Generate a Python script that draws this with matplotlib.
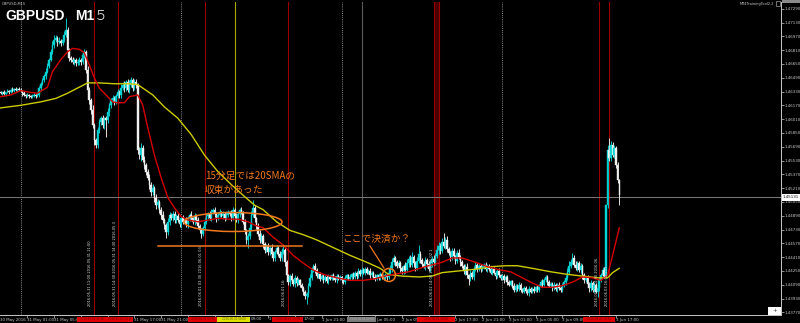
import numpy as np
import matplotlib
matplotlib.use("Agg")
import matplotlib.pyplot as plt
from matplotlib.patches import Ellipse, Rectangle
from matplotlib.transforms import blended_transform_factory

# ------------------------------------------------------------------ data
# GBPUSD M15, bar 0 = 2016.05.30 21:00 (prices in 1e-4 units)
first_open = 14632
close_pips = [
    14631, 14632, 14630, 14632, 14634, 14632, 14635, 14634, 14636, 14635, 14636, 14635,
    14634, 14631, 14629, 14628, 14629, 14628, 14627, 14628, 14629, 14628, 14629,
    14637, 14642, 14646, 14651, 14656, 14663, 14670, 14679, 14687, 14693, 14695,
    14690, 14692, 14689, 14693, 14698, 14704,
    14681, 14672, 14670, 14667, 14670, 14666, 14667, 14670, 14667, 14675, 14679,
    14658, 14635, 14623, 14612, 14594, 14577, 14571,
    14588, 14598, 14602, 14594, 14602, 14600, 14609, 14617, 14623, 14625, 14621, 14628,
    14632, 14629, 14637, 14641, 14637, 14644, 14635, 14641, 14646, 14637, 14644, 14641,
    14565, 14559, 14568, 14554, 14548, 14540, 14533, 14525, 14516, 14521, 14510, 14501,
    14505, 14496, 14490, 14484, 14478, 14470,
    14482, 14490, 14486, 14491, 14484, 14489, 14484, 14479, 14486, 14482, 14484, 14479,
    14486, 14490, 14486, 14482, 14489, 14484, 14477, 14472, 14468, 14475, 14482,
    14489, 14491, 14486, 14493, 14496, 14491, 14486, 14490, 14493, 14489, 14491, 14486,
    14490, 14493, 14491, 14486, 14496, 14489, 14484, 14491, 14496, 14493,
    14482, 14472, 14461, 14466, 14475, 14490, 14498, 14486, 14477, 14468, 14461, 14466,
    14456, 14449, 14454, 14447, 14452, 14445, 14440, 14447, 14452, 14445, 14440, 14447, 14449,
    14435, 14420, 14412, 14419, 14414, 14410, 14417, 14411, 14414, 14409, 14405, 14401,
    14396, 14398, 14408, 14417, 14426, 14431, 14426, 14419, 14421, 14416,
    14419, 14414, 14418, 14413, 14418, 14416, 14420, 14417, 14414, 14419, 14416, 14418,
    14414, 14412, 14417, 14420, 14416, 14418, 14421, 14418, 14423, 14419, 14425, 14421,
    14426, 14423, 14427, 14423, 14425, 14420, 14423, 14418, 14416, 14420, 14417, 14421,
    14418, 14416, 14420, 14418, 14423,
    14428, 14435, 14440, 14435, 14431, 14434, 14428, 14425, 14431, 14426,
    14434, 14439, 14432, 14441, 14434, 14428, 14437, 14445, 14438, 14433,
    14430, 14438, 14433, 14427, 14434, 14439, 14435, 14442, 14449, 14454,
    14448, 14459, 14454, 14461, 14450, 14446, 14441, 14448, 14442, 14437,
    14446, 14441, 14435, 14431, 14425, 14430, 14420, 14416, 14423, 14418,
    14427, 14432, 14427, 14431, 14427, 14430, 14432, 14427, 14431, 14427,
    14423, 14427, 14423, 14419, 14425, 14420, 14417, 14419, 14414,
    14418, 14412, 14409, 14413, 14408, 14403, 14408, 14404, 14409, 14403,
    14401, 14405, 14402, 14399, 14404, 14401, 14404, 14402, 14406, 14403,
    14408, 14412, 14409, 14414, 14418, 14412, 14408, 14410, 14405, 14409,
    14404, 14409, 14405, 14403, 14408, 14412, 14417, 14424, 14431, 14435,
    14440, 14432, 14428, 14434, 14426, 14431, 14420, 14414, 14417, 14410,
    14405, 14411, 14403, 14409, 14401, 14405, 14414, 14420, 14426, 14419,
    14501, 14565, 14556, 14571, 14559, 14568, 14548, 14530, 14513,
]
upper_wick = [
    2, 1, 3, 1, 2, 1, 2, 3, 1, 2,   1, 2, 2, 1, 3, 1, 2, 1, 1, 2,
    2, 1, 3, 2, 2, 3, 2, 4, 3, 2,   3, 4, 5, 3, 2, 4, 2, 3, 5, 14,
    4, 3, 2, 3, 2, 2, 4, 3, 2, 5,   3, 2, 4, 3, 2, 5, 3, 2, 4, 3,
    3, 4, 2, 3, 5, 3, 2, 4, 3, 2,   4, 3, 5, 3, 4, 2, 3, 5, 4, 3,
    3, 4, 2, 4, 5, 3, 4, 2, 3, 4,   3, 5, 2, 4, 3, 2, 3, 4, 2, 3,
    4, 3, 2, 3, 4, 2, 3, 2, 3, 4,   2, 3, 3, 2, 4, 2, 3, 2, 3, 2,
    3, 2, 4, 3, 2, 3, 4, 2, 3, 2,   3, 4, 2, 3, 2, 4, 3, 2, 5, 3,
    2, 3, 4, 2, 3, 2, 3, 2, 3, 4,   5, 9, 3, 2, 3, 4, 3, 2, 3, 2,
    3, 2, 4, 3, 2, 3, 2, 3, 4, 5,   2, 3, 2, 3, 4, 2, 3, 2, 3, 2,
    2, 3, 2, 2, 3, 4, 3, 2, 3, 2,   2, 3, 2, 3, 2, 2, 3, 2, 2, 3,
    2, 2, 3, 2, 1, 2, 3, 2, 2, 3,   2, 3, 2, 2, 3, 2, 3, 2, 2, 3,
    2, 3, 2, 2, 3, 2, 2, 3, 2, 2,   3, 2, 3, 4, 5, 3, 2, 3, 4, 2,
    3, 2, 4, 5, 3, 4, 6, 3, 2, 4,   10, 3, 2, 4, 3, 2, 3, 4, 3, 5,
    4, 6, 5, 3, 4, 10, 3, 4, 3, 2,  4, 3, 2, 3, 4, 2, 3, 2, 3, 4,
    2, 3, 2, 4, 3, 2, 3, 2, 3, 2,   3, 2, 2, 3, 2, 3, 2, 2, 3, 2,
    2, 3, 2, 2, 3, 2, 2, 3, 2, 2,   3, 2, 2, 3, 2, 2, 3, 2, 2, 3,
    2, 3, 2, 3, 4, 3, 2, 2, 3, 2,   2, 3, 2, 2, 3, 2, 3, 2, 3, 4,
    5, 4, 6, 3, 4, 3, 2, 3, 2, 3,   2, 3, 2, 3, 2, 3, 2, 3, 4, 3,
    4, 3, 0, 6, 14, 5, 4, 3, 2, 3,  2,
]
lower_wick = [
    1, 2, 1, 2, 1, 2, 1, 1, 2, 1,   2, 1, 2, 3, 1, 2, 1, 2, 2, 1,
    1, 2, 1, 2, 3, 2, 2, 3, 2, 3,   2, 3, 4, 3, 4, 2, 3, 2, 3, 2,
    3, 4, 3, 2, 3, 4, 2, 3, 3, 2,   3, 4, 5, 4, 5, 3, 6, 3, 4, 3,
    4, 3, 5, 20, 3, 4, 3, 2, 4, 3,  3, 4, 3, 2, 4, 3, 2, 4, 3, 3,
    2, 4, 5, 4, 6, 3, 5, 4, 3, 5,   4, 3, 5, 4, 3, 4, 5, 3, 4, 7,
    3, 4, 2, 3, 4, 3, 2, 3, 4, 3,   2, 3, 4, 3, 2, 3, 4, 3, 2, 3,
    5, 3, 2, 3, 4, 2, 3, 2, 3, 4,   2, 3, 2, 4, 3, 2, 3, 2, 3, 2,
    3, 2, 4, 3, 2, 3, 4, 5, 10, 4,  3, 2, 4, 3, 2, 4, 3, 4, 3, 2,
    3, 4, 2, 3, 4, 2, 3, 4, 3, 2,   4, 5, 3, 4, 2, 3, 4, 3, 2, 3,
    3, 4, 3, 9, 3, 2, 3, 2, 3, 2,   2, 3, 2, 3, 2, 2, 3, 2, 2, 3,
    2, 3, 2, 2, 3, 2, 2, 3, 2, 2,   3, 2, 2, 3, 2, 2, 3, 2, 3, 2,
    2, 3, 2, 2, 3, 2, 2, 3, 2, 2,   2, 3, 2, 3, 4, 3, 4, 3, 2, 4,
    3, 4, 3, 2, 4, 3, 2, 4, 3, 2,   3, 4, 3, 2, 4, 3, 2, 3, 4, 3,
    3, 2, 4, 3, 2, 3, 4, 3, 2, 4,   3, 2, 4, 3, 2, 4, 3, 4, 5, 3,
    7, 3, 2, 3, 2, 3, 2, 3, 2, 3,   2, 3, 2, 2, 3, 2, 3, 2, 2, 3,
    2, 3, 2, 3, 2, 2, 3, 2, 3, 2,   2, 3, 2, 2, 3, 2, 3, 2, 2, 3,
    2, 2, 3, 2, 3, 2, 2, 3, 2, 2,   3, 2, 2, 3, 2, 3, 2, 2, 3, 2,
    2, 3, 2, 3, 2, 3, 2, 3, 4, 3,   2, 3, 4, 3, 2, 3, 2, 6, 3, 2,
    3, 2, 2, 3, 4, 3, 2, 3, 4, 3,   12,
]

# 20 SMA (red) and 20 SMA of H1 (yellow)
red_ma_bar = [0, 6, 12, 18, 22, 28, 31, 36, 40, 43, 47, 50, 53, 56, 59, 64, 67, 70, 74, 77,
              82, 85, 88, 92, 96, 100, 104, 108, 112, 118, 124, 130, 136, 142, 148, 152, 157,
              163, 169, 175, 181, 187, 193, 201, 209, 217, 224, 232, 244, 254, 264, 270, 276,
              284, 291, 299, 305, 312, 318, 324, 330, 336, 342, 348, 354, 359, 363, 366, 370]
red_ma_pips = [14627, 14629, 14634, 14632, 14631, 14638, 14656, 14670, 14679, 14683, 14682,
               14678, 14664, 14649, 14637, 14627, 14621, 14620, 14620, 14627, 14629, 14617,
               14591, 14559, 14533, 14510, 14498, 14488, 14484, 14482, 14484, 14486, 14485,
               14485, 14482, 14478, 14475, 14464, 14455, 14443, 14434, 14426, 14421, 14417,
               14414, 14414, 14416, 14420, 14424, 14430, 14435, 14440, 14440, 14435, 14430,
               14426, 14424, 14417, 14411, 14406, 14406, 14408, 14412, 14418, 14417, 14414,
               14420, 14443, 14475]
yellow_ma_bar = [0, 12, 24, 33, 40, 46, 52, 59, 68, 77, 82, 91, 98, 106, 114, 122, 130, 138,
                 146, 152, 157, 165, 173, 181, 189, 199, 209, 219, 227, 232, 240, 250, 258,
                 264, 274, 284, 294, 302, 309, 318, 329, 339, 348, 357, 363, 366, 370]
yellow_ma_pips = [14614, 14617, 14621, 14625, 14631, 14637, 14643, 14643, 14642, 14642, 14641,
                  14629, 14615, 14602, 14583, 14559, 14540, 14525, 14511, 14501, 14496, 14482,
                  14472, 14467, 14461, 14452, 14443, 14435, 14428, 14421, 14419, 14418, 14419,
                  14423, 14425, 14427, 14430, 14431, 14431, 14428, 14424, 14421, 14419, 14417,
                  14417, 14423, 14428]

bid_price = 1.4511
bid_label = "1.45131"

price_ticks = [1.47290, 1.47130, 1.46970, 1.46810, 1.46650, 1.46490, 1.46330, 1.46170,
               1.46010, 1.45850, 1.45690, 1.45530, 1.45370, 1.45210, 1.45050, 1.44890,
               1.44730, 1.44570, 1.44410, 1.44250, 1.44090, 1.43930, 1.43770]
price_tick_labels = ["%.5f" % p for p in price_ticks]

time_tick_bars = [16, 32, 48, 64, 80, 96, 112, 128, 144, 160, 176, 192, 208, 224, 240, 256,
                  272, 288, 304, 320, 336, 352, 368]
time_tick_labels = ["31 May 01:00", "31 May 05:00", "31 May 09:00", "31 May 13:00",
                    "31 May 17:00", "31 May 21:00", "1 Jun 01:00", "1 Jun 05:00",
                    "1 Jun 09:00", "1 Jun 13:00", "1 Jun 17:00", "1 Jun 21:00",
                    "2 Jun 01:00", "2 Jun 05:00", "2 Jun 09:00", "2 Jun 13:00",
                    "2 Jun 17:00", "2 Jun 21:00", "3 Jun 01:00", "3 Jun 05:00",
                    "3 Jun 09:00", "3 Jun 13:00", "3 Jun 17:00"]
first_label = "30 May 2016"

day_sep_bars = [12, 108, 204, 300]
red_event_bars = [56, 70, 122, 172, 259, 262, 358, 364]
yellow_event_bars = [140]
grey_event_bars = [216]
event_box_kind = ["red", "red", "red", "yellow", "red", "grey", "red", "red"]
event_box_text = ["2016.05.31 11:00", "2016.05.31 14:30", "2016.06.01 03:30",
                  "2016.06.01 08:00", "2016.06.01 16:00", "2016.06.02 03:00",
                  "2016.06.02 14:00", "2016.06.03 14:30"]
event_texts = ["2016.05.31 11:00", "2016.05.31 14:30", "2016.06.01 03:30",
               "2016.06.01 16:00", "2016.06.02 14:00", "2016.06.03 14:30",
               "2016.06.03 16:00"]

# ------------------------------------------------------------------ geometry helpers
W, H = 800, 323
X0, DX = 0.64, 1.672          # pixel x of bar 0, pixels per bar
P0, DP = 1.47391, 0.00011594  # price at pixel y=0, price per pixel


def bx(px):
    return (px - X0) / DX


def py(y):
    return P0 - DP * y


def fx(px):
    return px / W


def fy(y):
    return 1 - y / H


closes = np.array(close_pips) / 1e4
opens = np.concatenate([[first_open], close_pips[:-1]]) / 1e4
highs = np.maximum(opens, closes) + np.array(upper_wick) / 1e4
lows = np.minimum(opens, closes) - np.array(lower_wick) / 1e4
idx = np.arange(len(closes))

BULL, BEAR = "#00D2D2", "#F0F0F0"
ORANGE = "#F07820"
AXC = "#C8C8C8"

fig = plt.figure(figsize=(W / 100, H / 100), dpi=100, facecolor="black")
ax = fig.add_axes([0, 8 / H, 781 / W, 313 / H], facecolor="black")
ax.set_xlim(bx(0), bx(781))
ax.set_ylim(py(315), py(2))

# separators and event lines
for b in day_sep_bars:
    ax.axvline(b, color="#8A8A8A", lw=0.7, ls=(0, (1, 1.2)), zorder=1)
ax.axvspan(red_event_bars[4], red_event_bars[5], color="#4A0000", lw=0, zorder=1)
for b in red_event_bars:
    ax.axvline(b, color="#9A0000", lw=0.8, zorder=1)
for b in yellow_event_bars:
    ax.axvline(b, color="#A8A800", lw=0.8, zorder=1)
for b in grey_event_bars:
    ax.axvline(b, color="#5A5A5A", lw=0.8, zorder=1)

# bid line
ax.axhline(bid_price, color="#7A7A7A", lw=0.7, zorder=1)

# candles
cols = np.where(closes >= opens, BULL, BEAR)
ax.vlines(idx, lows, highs, colors=cols, lw=0.65, zorder=3)
ax.bar(idx, closes - opens, bottom=opens, width=0.92, color=cols, edgecolor=cols,
       linewidth=0.3, zorder=3)

# moving averages
ax.plot(yellow_ma_bar, np.array(yellow_ma_pips) / 1e4, color="#CCCC00", lw=1.0, zorder=4)
ax.plot(red_ma_bar, np.array(red_ma_pips) / 1e4, color="#D40000", lw=1.0, zorder=4)

# vertical event text columns (run from the top point down to the axis bottom)
vt_pos = [(90, 235), (115, 213), (201, 238), (284, 275), (432, 242), (597, 252), (607, 262)]
for (xp, yt), t in zip(vt_pos, event_texts):
    nchar = int((306 - yt) / 2.15)
    s = ((t + " ") * 6)[:nchar].strip()
    ax.text(bx(xp), py(306), s, rotation=90, fontsize=2.6, color="#E0E0E0",
            ha="center", va="bottom", zorder=5, family="DejaVu Sans")

# orange annotations
ax.add_patch(Ellipse((bx(233), py(222)), 98 / DX, 19 * DP, fill=False, ec=ORANGE, lw=1.1,
                     zorder=6))
ax.plot([bx(158), bx(302)], [py(246), py(246)], color=ORANGE, lw=1.1, zorder=6)
ax.add_patch(Ellipse((bx(389), py(275)), 13 / DX, 13 * DP, fill=False, ec=ORANGE, lw=1.1,
                     zorder=6))
ax.plot([bx(370), bx(384)], [py(246), py(268)], color=ORANGE, lw=0.9, zorder=6)
jp = ["Noto Sans CJK JP", "DejaVu Sans"]
ax.text(bx(205), py(175.5), "15分足では20SMAの", fontsize=7, color=ORANGE, family=jp,
        ha="left", va="center", zorder=7)
ax.text(bx(205), py(189.5), "収束があった", fontsize=7, color=ORANGE, family=jp,
        ha="left", va="center", zorder=7)
ax.text(bx(342), py(238.5), "ここで決済か？", fontsize=7, color=ORANGE, family=jp,
        ha="left", va="center", zorder=7)

# axes styling
for s in ["left", "top"]:
    ax.spines[s].set_visible(False)
ax.spines["right"].set_color(AXC)
ax.spines["bottom"].set_color(AXC)
ax.spines["right"].set_linewidth(0.7)
ax.spines["bottom"].set_linewidth(0.7)
ax.yaxis.tick_right()
ax.set_yticks(price_ticks)
ax.set_yticklabels(price_tick_labels)
ax.tick_params(axis="y", length=2, width=0.5, colors=AXC, labelsize=2.9, pad=0.8)
for lbl in ax.get_yticklabels():
    lbl.set_family("DejaVu Sans")
ax.set_xticks(time_tick_bars)
ax.set_xticklabels([""] * len(time_tick_bars))
ax.tick_params(axis="x", length=2, width=0.5, colors=AXC)

# time labels: MT4 draws them left-aligned at the bar; the event boxes hide some of them
bt = blended_transform_factory(ax.transData, fig.transFigure)
hidden = {48, 64, 112, 128, 208, 256, 352}
partial = {144: ("09:00", 250.5), 160: ("1", 268.2), 176: ("17:00", 303.5),
           224: ("Jun 05:00", 376.5), 240: ("2 Jun 09", 402.0)}
ax.text(bx(0.5), fy(319.5), first_label, transform=bt, fontsize=2.9, color=AXC,
        ha="left", va="center", clip_on=False)
for b, t in zip(time_tick_bars, time_tick_labels):
    if b in hidden:
        continue
    xb = b
    if b in partial:
        t, xp = partial[b]
        xb = bx(xp)
    ax.text(xb, fy(319.5), t, transform=bt, fontsize=2.9, color=AXC, ha="left",
            va="center", clip_on=False, family="DejaVu Sans")

# event time boxes on the time axis (pixel span of each box)
box_span = [(77, 107), (107, 133), (188, 217), (217, 250), (272, 303), (347, 376),
            (417, 455), (583, 615)]
box_style = {"red": ("#E00000", "#700000"), "yellow": ("#E0E000", "#606000"),
             "grey": ("#7A7A7A", "#B4B4B4")}
for (x0, x1), kind, t in zip(box_span, event_box_kind, event_box_text):
    fc, tc = box_style[kind]
    fig.add_artist(Rectangle((fx(x0), fy(322)), (x1 - x0) / W, 5.5 / H,
                             transform=fig.transFigure, fc=fc, ec="none", zorder=5))
    fig.text(fx((x0 + x1) / 2), fy(319.3), t, fontsize=2.0, color=tc, ha="center",
             va="center", zorder=6)

# bid label on price axis
fig.add_artist(Rectangle((fx(782), fy(200.5)), 18 / W, 6.5 / H, transform=fig.transFigure,
                         fc="white", ec="none", zorder=5))
fig.text(fx(783), fy(197.3), bid_label, fontsize=2.9, color="black", ha="left", va="center",
         zorder=6)
fig.add_artist(Rectangle((fx(782), fy(3)), 18 / W, 3 / H, transform=fig.transFigure,
                         fc="#8A8A8A", ec="none", zorder=5))

# chart titles and tool labels
fig.text(fx(2), fy(4), "GBPUSD,M15", fontsize=2.6, color=AXC, ha="left", va="center")
fig.text(fx(5), fy(20), "GBPUSD", fontsize=10, color="white", weight="bold",
         family="Liberation Sans", ha="left", va="baseline")
fig.text(fx(75), fy(20), "M1", fontsize=10, color="white", weight="bold",
         family="Liberation Sans", ha="left", va="baseline")
fig.text(fx(94), fy(20), "５", fontsize=10, color="white", weight="light",
         family=["Noto Sans CJK JP", "DejaVu Sans"], ha="left", va="baseline")
fig.text(fx(740), fy(3.5), "MT4TrainingTool2.2", fontsize=2.6, color=AXC, ha="left",
         va="center")
fig.add_artist(Rectangle((fx(776), fy(6)), 4 / W, 5 / H, transform=fig.transFigure,
                         fc="none", ec=AXC, lw=0.4, zorder=5))
fig.add_artist(Rectangle((fx(768), fy(315)), 13 / W, 8 / H, transform=fig.transFigure,
                         fc="white", ec="none", zorder=5))
fig.text(fx(774.5), fy(311), "+", fontsize=4, color="#404040", ha="center", va="center",
         zorder=6)

fig.savefig("out.png", dpi=100, facecolor="black")
